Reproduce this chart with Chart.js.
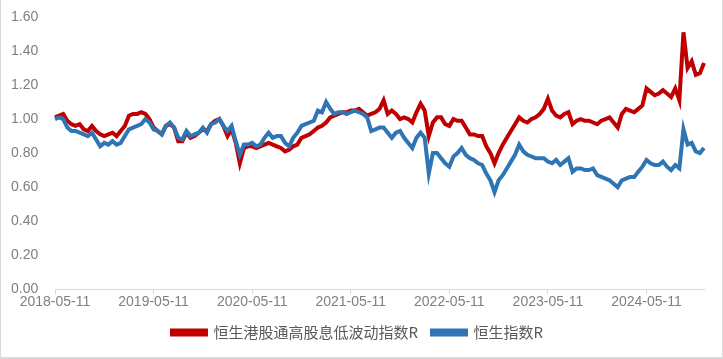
<!DOCTYPE html>
<html>
<head>
<meta charset="utf-8">
<script src="https://cdn.jsdelivr.net/npm/chart.js@4.4.1/dist/chart.umd.min.js"></script>
<style>
html, body { margin: 0; padding: 0; background: #fff; }
#wrap { position: relative; width: 723px; height: 359px; box-sizing: border-box;
        border-left: 1px solid #d9d9d9; border-right: 1px solid #d9d9d9; border-bottom: 2px solid #d9d9d9; }
</style>
</head>
<body>
<div id="wrap"><canvas id="chart"></canvas></div>
<script>
// half-month calendar: 11th and 26th of each month, 2018-05-11 .. 2024-12-11
const firstYear = 2018;
const firstMonth = 5;
const pointCount = 159;
const dates = [];
for (let j = 0; j < pointCount; j++) {
    const k = firstMonth - 1 + Math.floor(j / 2);
    const y = firstYear + Math.floor(k / 12);
    const m = String(k % 12 + 1).padStart(2, '0');
    dates.push(`${y}-${m}-${j % 2 ? '26' : '11'}`);
}

const tickLabels = ['2018-05-11', '2019-05-11', '2020-05-11', '2021-05-11', '2022-05-11', '2023-05-11', '2024-05-11'];

const seriesNames = ['恒生港股通高股息低波动指数R', '恒生指数R'];

// 恒生港股通高股息低波动指数R
const highDivLowVol = [
    1.01, 1.02, 1.03, 0.99, 0.97, 0.96, 0.97, 0.94, 0.93, 0.96, 0.93, 0.91, 0.90, 0.91, 0.92, 0.90, 0.93, 0.96,
    1.02, 1.03, 1.03, 1.04, 1.03, 1.00, 0.95, 0.93, 0.91, 0.96, 0.97, 0.95, 0.87, 0.87, 0.92, 0.89, 0.90, 0.92,
    0.94, 0.93, 0.97, 0.99, 1.00, 0.96, 0.90, 0.94, 0.86, 0.74, 0.83, 0.84, 0.84, 0.83, 0.84, 0.85, 0.86,
    0.85, 0.84, 0.83, 0.81, 0.82, 0.84, 0.85, 0.89, 0.90, 0.91, 0.93, 0.95, 0.96, 0.98, 1.01, 1.02, 1.03, 1.04,
    1.04, 1.05, 1.05, 1.06, 1.04, 1.02, 1.03, 1.04, 1.06, 1.11, 1.03, 1.05, 1.03, 1.00, 1.01, 1.00, 0.98,
    1.04, 1.09, 1.05, 0.90, 0.98, 1.01, 1.01, 0.97, 0.96, 1.00, 0.99, 0.99, 0.95, 0.91, 0.91, 0.90, 0.90, 0.84,
    0.80, 0.74, 0.80, 0.85, 0.89, 0.93, 0.97, 1.01, 0.99, 0.98, 1.00, 1.01, 1.03, 1.06, 1.12, 1.05, 1.02,
    1.01, 1.03, 1.04, 0.97, 0.99, 1.00, 0.99, 0.99, 0.98, 0.97, 0.99, 1.00, 1.01, 0.98, 0.95, 1.03, 1.06, 1.05,
    1.04, 1.06, 1.08, 1.18, 1.16, 1.14, 1.15, 1.17, 1.15, 1.13, 1.18, 1.11,
    1.51, 1.30, 1.34, 1.26, 1.27, 1.33
];

// 恒生指数R
const hangSeng = [
    1.00, 1.01, 1.00, 0.95, 0.93, 0.93, 0.92, 0.91, 0.90, 0.92, 0.88, 0.84, 0.86, 0.85, 0.87, 0.85, 0.86, 0.90,
    0.94, 0.95, 0.96, 0.97, 1.00, 0.98, 0.94, 0.93, 0.91, 0.96, 0.98, 0.95, 0.89, 0.88, 0.93, 0.90, 0.91, 0.92,
    0.95, 0.92, 0.97, 0.98, 1.00, 0.96, 0.93, 0.96, 0.87, 0.79, 0.85, 0.85, 0.86, 0.84, 0.85, 0.89, 0.92,
    0.89, 0.90, 0.90, 0.86, 0.84, 0.89, 0.92, 0.96, 0.97, 0.98, 0.99, 1.05, 1.04, 1.10, 1.06, 1.03, 1.04, 1.04,
    1.03, 1.04, 1.05, 1.04, 1.03, 1.01, 0.93, 0.94, 0.95, 0.95, 0.92, 0.89, 0.92, 0.93, 0.89, 0.86, 0.83,
    0.89, 0.92, 0.89, 0.68, 0.80, 0.80, 0.77, 0.74, 0.72, 0.78, 0.80, 0.83, 0.79, 0.77, 0.76, 0.74, 0.73, 0.68,
    0.64, 0.57, 0.64, 0.67, 0.71, 0.75, 0.79, 0.85, 0.81, 0.79, 0.78, 0.77, 0.77, 0.77, 0.75, 0.74, 0.76,
    0.73, 0.75, 0.77, 0.69, 0.71, 0.71, 0.70, 0.70, 0.71, 0.67, 0.66, 0.65, 0.64, 0.62, 0.60, 0.64, 0.65, 0.66,
    0.66, 0.69, 0.72, 0.76, 0.74, 0.73, 0.73, 0.75, 0.72, 0.70, 0.73, 0.71,
    0.94, 0.85, 0.86, 0.81, 0.80, 0.83
];

const axisFont = { family: '"Liberation Sans", Arial, "Noto Sans CJK SC", sans-serif', size: 14 };

new Chart(document.getElementById('chart'), {
    type: 'line',
    data: {
        labels: dates,
        datasets: [{
            label: seriesNames[0],
            data: highDivLowVol,
            borderColor: '#C00000',
            backgroundColor: '#C00000',
            borderWidth: 4,
            pointRadius: 0,
            tension: 0,
            order: 2
        }, {
            label: seriesNames[1],
            data: hangSeng,
            borderColor: '#2E75B6',
            backgroundColor: '#2E75B6',
            borderWidth: 4,
            pointRadius: 0,
            tension: 0,
            order: 1
        }]
    },
    options: {
        responsive: true,
        maintainAspectRatio: false,
        animation: false,
        layout: { padding: { top: 17, right: 18, left: 10, bottom: 7 } },
        plugins: {
            tooltip: { enabled: false },
            legend: {
                position: 'bottom',
                labels: {
                    boxWidth: 34,
                    boxHeight: 4,
                    padding: 14,
                    color: '#595959',
                    font: { family: '"Noto Sans CJK SC", "Liberation Sans", sans-serif', size: 15 },
                    sort: (a, b) => a.datasetIndex - b.datasetIndex
                }
            }
        },
        scales: {
            x: {
                type: 'category',
                grid: { display: true, drawOnChartArea: false, drawTicks: true, tickLength: 5, color: '#D9D9D9' },
                border: { display: true, color: '#D9D9D9', width: 1 },
                ticks: { autoSkip: false, maxRotation: 0, color: '#7F7F7F', font: axisFont, padding: 0 },
                afterBuildTicks: (axis) => {
                    axis.ticks = axis.ticks.filter(t => tickLabels.includes(dates[t.value]));
                }
            },
            y: {
                min: 0,
                max: 1.6,
                grid: { display: false, drawTicks: false },
                border: { display: false },
                ticks: {
                    stepSize: 0.2,
                    padding: 0,
                    crossAlign: 'far',
                    color: '#7F7F7F',
                    font: axisFont,
                    callback: (v) => v.toFixed(2)
                },
                afterFit: (axis) => { axis.width = 44; }
            }
        }
    }
});
</script>
</body>
</html>
